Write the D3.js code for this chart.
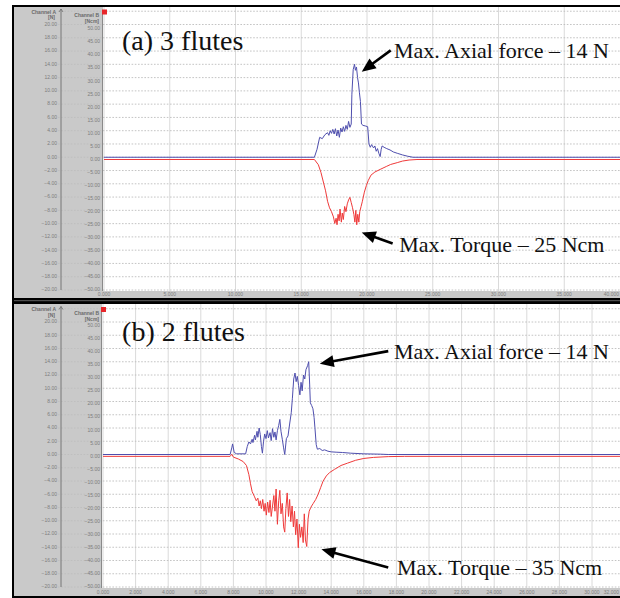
<!DOCTYPE html>
<html><head><meta charset="utf-8">
<script src="https://cdn.jsdelivr.net/npm/d3@7"></script>
<style>
html,body{margin:0;padding:0;background:#fff;}
svg{display:block;}
</style></head><body>
<svg id="fig" width="620" height="598"></svg>
<script>
// Tick values for Channel A (axial force, N), Channel B (torque, Ncm) and time
const forceTicks = d3.range(-20, 20.01, 2);
const forceGrid = d3.range(-20, 22.01, 2);
const torqueTicks = d3.range(-50, 50.01, 5);
const timeTicks3 = d3.range(0, 40.01, 5);
const timeTicks2 = d3.range(0, 32.01, 2);

// (a) 3 flutes: axial force [N]
const timeForce3 = [0, 16.0, 16.2, 16.4, 16.6, 16.8, 17.0, 17.1, 17.2, 17.3, 17.4, 17.5, 17.6, 17.7, 17.8, 17.9, 18.0, 18.1, 18.2, 18.3, 18.4, 18.5, 18.6, 18.7, 18.8, 18.85, 18.95, 19.05, 19.12, 19.2, 19.28, 19.35, 19.42, 19.5, 19.58, 19.7, 19.9, 20.05, 20.15, 20.25, 20.35, 20.5, 20.6, 20.7, 20.8, 20.9, 21.0, 21.08, 21.15, 21.3, 21.5, 21.75, 22.0, 22.3, 22.7, 23.1, 23.5, 40];
const force3 = [0, 0, 1.2, 3.0, 2.8, 3.4, 3.7, 3.3, 4.0, 3.6, 4.2, 3.5, 4.3, 3.2, 4.1, 3.0, 4.4, 3.8, 4.6, 3.9, 4.8, 4.2, 5.4, 4.5, 5.0, 9.5, 13.2, 14.0, 13.1, 13.6, 12.0, 11.2, 9.8, 8.4, 5.0, 4.8, 4.7, 4.6, 2.0, 1.5, 1.9, 1.4, 1.7, 0.9, 1.3, 0.6, 0.1, 1.2, 1.7, 1.5, 1.3, 1.1, 0.8, 0.6, 0.35, 0.15, 0, 0];
// (a) 3 flutes: torque [Ncm]
const timeTorque3 = [0, 16.0, 16.3, 16.5, 16.7, 16.85, 17.0, 17.15, 17.3, 17.45, 17.55, 17.65, 17.72, 17.8, 17.88, 17.95, 18.05, 18.12, 18.2, 18.3, 18.4, 18.5, 18.6, 18.7, 18.8, 18.9, 19.0, 19.08, 19.15, 19.22, 19.3, 19.38, 19.45, 19.55, 19.65, 19.8, 19.95, 20.1, 20.3, 20.6, 21.0, 21.5, 21.8, 22.3, 22.7, 23.2, 23.8, 40];
const torque3 = [0, 0, -2, -5, -9, -12, -16, -18.5, -20, -22, -24.5, -22.5, -25, -21, -23.5, -19, -24, -20.5, -23, -18, -20, -17, -15.5, -14.5, -16.5, -18.5, -21, -24, -19.5, -25, -21, -24, -20, -18, -16, -12.5, -10, -8, -6, -4.8, -3.8, -2.6, -1.9, -1.2, -0.6, -0.2, 0, 0];

// (b) 2 flutes: axial force [N]
const timeForce2 = [0, 7.8, 7.9, 7.95, 8.05, 8.2, 8.75, 8.85, 8.95, 9.05, 9.15, 9.2, 9.3, 9.35, 9.45, 9.5, 9.58, 9.65, 9.72, 9.78, 9.85, 9.92, 10.0, 10.08, 10.15, 10.25, 10.32, 10.4, 10.48, 10.55, 10.62, 10.7, 10.78, 10.85, 10.92, 11.0, 11.08, 11.15, 11.25, 11.35, 11.45, 11.55, 11.62, 11.7, 11.78, 11.85, 11.92, 12.0, 12.08, 12.15, 12.22, 12.3, 12.38, 12.45, 12.55, 12.62, 12.68, 12.72, 12.8, 12.88, 12.95, 13.0, 13.08, 13.15, 13.3, 13.45, 13.6, 13.8, 14.0, 14.3, 14.7, 15.2, 16.0, 17.0, 17.5, 32];
const force2 = [0, 0, 1.0, 1.6, 0.3, 0.1, 0.1, 1.2, 1.9, 1.6, 2.3, 1.8, 2.9, 2.2, 3.5, 2.6, 4.0, 3.0, 1.2, 0.2, 2.0, 3.1, 2.4, 3.6, 2.5, 3.3, 2.1, 3.9, 2.6, 3.4, 2.2, 3.6, 4.4, 5.3, 3.5, 2.3, 1.0, 0.0, 2.4, 2.8, 4.6, 6.3, 8.5, 11.4, 12.3, 11.0, 11.8, 10.4, 9.0, 10.9, 9.6, 12.0, 11.4, 12.8, 13.4, 14.0, 10.5, 7.8, 7.4, 6.9, 5.6, 4.1, 1.5, 0.8, 0.9, 0.6, 0.7, 0.5, 0.4, 0.35, 0.3, 0.2, 0.1, 0.05, 0, 0];
// (b) 2 flutes: torque [Ncm]
const timeTorque2 = [0, 7.8, 7.9, 8.0, 8.3, 8.6, 8.8, 8.95, 9.05, 9.15, 9.3, 9.4, 9.5, 9.58, 9.65, 9.72, 9.8, 9.88, 9.95, 10.02, 10.1, 10.18, 10.25, 10.32, 10.4, 10.48, 10.55, 10.62, 10.7, 10.78, 10.85, 10.92, 11.0, 11.08, 11.15, 11.22, 11.3, 11.38, 11.45, 11.52, 11.6, 11.68, 11.75, 11.82, 11.9, 11.98, 12.05, 12.12, 12.2, 12.28, 12.35, 12.42, 12.5, 12.58, 12.65, 12.75, 12.9, 13.05, 13.2, 13.35, 13.5, 13.7, 13.9, 14.2, 14.6, 15.0, 15.5, 16.0, 16.6, 17.5, 18.5, 32];
const torque2 = [0, 0, 0.8, -0.3, -1, -2, -3.5, -7, -10.5, -13.5, -15.5, -17, -16, -19, -17, -20, -16.5, -21, -18, -22.5, -17.5, -21.5, -16.8, -23, -19, -15, -21, -12.5, -26, -17, -13, -22, -18, -27, -29, -20, -14, -23, -16.5, -25, -19, -27, -21, -30, -24, -35, -26, -31, -27, -33, -22, -32, -34.5, -24, -21, -19.5, -18, -16.5, -14.5, -12, -9.5, -7.5, -6.2, -5, -3.5, -2.6, -1.5, -0.8, -0.4, -0.1, 0, 0];

// Panel geometry and annotations (annotation anchors are in data units)
const panels = [
  {
    title: "(a) 3 flutes", titleAt: [1.37, 16.2],
    dy: 0, chartTop: 7, chartBottom: 291, stripBottom: 298,
    xDomain: [0, 40], xRange: [104, 630], timeTicks: timeTicks3,
    rangeA: [290, 24.5], rangeB: [290, 29],
    force: [timeForce3, force3], torque: [timeTorque3, torque3],
    notes: [
      {text: "Max. Axial force \u2013 14 N", ch: "A", at: [22.05, 14.9], tail: [21.8, 16.1], tip: [19.6, 12.9]},
      {text: "Max. Torque \u2013 25 Ncm", ch: "B", at: [22.45, -35.4], tail: [21.95, -32.2], tip: [19.6, -28.0]}
    ]
  },
  {
    title: "(b) 2 flutes", titleAt: [1.17, 17.1],
    dy: 297.5, chartTop: 304, chartBottom: 588, stripBottom: 596,
    xDomain: [0, 32], xRange: [103, 624.6], timeTicks: timeTicks2,
    rangeA: [587, 322], rangeB: [587, 325.7],
    force: [timeForce2, force2], torque: [timeTorque2, torque2],
    notes: [
      {text: "Max. Axial force \u2013 14 N", ch: "A", at: [17.85, 14.4], tail: [17.5, 15.6], tip: [13.3, 13.7]},
      {text: "Max. Torque \u2013 35 Ncm", ch: "B", at: [18.04, -45.5], tail: [17.5, -42.5], tip: [13.4, -35.6]}
    ]
  }
];

const svg = d3.select("#fig");
const W = 620;
const grey = "#c9c9c9";
const tickFont = "Liberation Sans, Arial, sans-serif";
const serif = "Liberation Serif, Times New Roman, serif";

// outer frame
svg.append("rect").attr("x", 12).attr("y", 5).attr("width", W - 12).attr("height", 593).attr("fill", "#000");

panels.forEach(p => {
  const g = svg.append("g");
  const x = d3.scaleLinear().domain(p.xDomain).range(p.xRange);
  const yA = d3.scaleLinear().domain([-20, 20]).range(p.rangeA);
  const yB = d3.scaleLinear().domain([-50, 50]).range(p.rangeB);
  const left = p.xRange[0] - 1;

  // grey instrument panel and white plotting area
  g.append("rect").attr("x", 14).attr("y", p.chartTop).attr("width", W - 14)
    .attr("height", p.stripBottom - p.chartTop).attr("fill", grey);
  g.append("rect").attr("x", left).attr("y", p.chartTop).attr("width", W - left)
    .attr("height", p.chartBottom - p.chartTop).attr("fill", "#fff");

  // vertical grid
  g.append("g").selectAll("line").data(p.timeTicks).join("line")
    .attr("x1", d => x(d)).attr("x2", d => x(d))
    .attr("y1", p.chartTop).attr("y2", p.chartBottom)
    .attr("stroke", "#dadada").attr("stroke-width", 1);

  // horizontal dotted grid (Channel A divisions)
  g.append("g").selectAll("line").data(forceGrid.filter(v => yA(v) > p.chartTop + 2)).join("line")
    .attr("x1", 58).attr("x2", W)
    .attr("y1", d => yA(d)).attr("y2", d => yA(d))
    .attr("stroke", "#bdbdbd").attr("stroke-width", 0.9).attr("stroke-dasharray", "1.6,1.6");

  // Channel A axis
  const axA = g.append("g").attr("font-family", tickFont).attr("font-size", 5).attr("fill", "#7d7d7d");
  axA.selectAll("text").data(forceTicks).join("text")
    .attr("x", 57).attr("y", d => yA(d)).attr("text-anchor", "end").attr("dominant-baseline", "middle")
    .text(d3.format(".2f"));
  g.append("line").attr("x1", 61).attr("x2", 61).attr("y1", 9 + p.dy).attr("y2", yA(-20))
    .attr("stroke", "#6e6e6e").attr("stroke-width", 0.9);
  g.append("path").attr("d", `M59,${12 + p.dy}L61,${9 + p.dy}L63,${12 + p.dy}`)
    .attr("fill", "none").attr("stroke", "#6e6e6e").attr("stroke-width", 0.8);

  // Channel B axis
  const axB = g.append("g").attr("font-family", tickFont).attr("font-size", 5).attr("fill", "#7d7d7d");
  axB.selectAll("text").data(torqueTicks).join("text")
    .attr("x", 100).attr("y", d => yB(d)).attr("text-anchor", "end").attr("dominant-baseline", "middle")
    .text(d3.format(".2f"));
  g.append("line").attr("x1", left - 0.5).attr("x2", left - 0.5).attr("y1", p.chartTop + 5).attr("y2", p.chartBottom)
    .attr("stroke", "#8a8a8a").attr("stroke-width", 1);
  g.append("rect").attr("x", left - 1).attr("y", 9.5 + p.dy).attr("width", 5).attr("height", 5).attr("fill", "#e8262a");

  // channel headers
  const hdr = g.append("g").attr("font-family", tickFont).attr("font-size", 5).attr("font-weight", "bold")
    .attr("fill", "#6a6a6a").attr("text-anchor", "end").attr("dominant-baseline", "middle");
  hdr.append("text").attr("x", 56).attr("y", 12.5 + p.dy).text("Channel A");
  hdr.append("text").attr("x", 55).attr("y", 18 + p.dy).text("[N]");
  hdr.append("text").attr("x", 99).attr("y", 16 + p.dy).text("Channel B");
  hdr.append("text").attr("x", 99).attr("y", 22 + p.dy).text("[Ncm]");

  // time axis labels (the last one is kept inside the window)
  g.append("g").attr("font-family", tickFont).attr("font-size", 5).attr("fill", "#7d7d7d")
    .selectAll("text").data(p.timeTicks).join("text")
    .attr("x", d => x(d) + 9 > W ? W - 1 : x(d))
    .attr("y", (p.chartBottom + p.stripBottom) / 2 + 0.5)
    .attr("text-anchor", d => x(d) + 9 > W ? "end" : "middle")
    .attr("dominant-baseline", "middle")
    .text(d3.format(".3f"));

  // signals
  const lineA = d3.line().x(d => x(d[0])).y(d => yA(d[1]));
  const lineB = d3.line().x(d => x(d[0])).y(d => yB(d[1]));
  g.append("path").datum(d3.zip(p.torque[0], p.torque[1])).attr("d", lineB)
    .attr("fill", "none").attr("stroke", "#ef3a3a").attr("stroke-width", 1).attr("stroke-linejoin", "round");
  g.append("path").datum(d3.zip(p.force[0], p.force[1])).attr("d", lineA)
    .attr("fill", "none").attr("stroke", "#4f4fae").attr("stroke-width", 1).attr("stroke-linejoin", "round");

  // panel title
  g.append("text").attr("x", x(p.titleAt[0])).attr("y", yA(p.titleAt[1]))
    .attr("font-family", serif).attr("font-size", 28).attr("fill", "#111").text(p.title);

  // annotations with arrows
  p.notes.forEach(n => {
    const ys = n.ch === "A" ? yA : yB;
    const tx = x(n.tail[0]), ty = ys(n.tail[1]);
    const hx = x(n.tip[0]), hy = ys(n.tip[1]);
    const len = Math.hypot(hx - tx, hy - ty);
    const ux = (hx - tx) / len, uy = (hy - ty) / len;
    const L = 14, hw = 6;
    const bx = hx - ux * L, by = hy - uy * L;
    g.append("line").attr("x1", tx).attr("y1", ty).attr("x2", bx + ux * 2).attr("y2", by + uy * 2)
      .attr("stroke", "#000").attr("stroke-width", 2.6);
    g.append("path")
      .attr("d", `M${hx},${hy}L${bx - uy * hw},${by + ux * hw}L${bx + uy * hw},${by - ux * hw}Z`)
      .attr("fill", "#000");
    g.append("text").attr("x", x(n.at[0])).attr("y", ys(n.at[1]))
      .attr("font-family", serif).attr("font-size", 22).attr("fill", "#111").text(n.text);
  });
});

// separator between the two panels
svg.append("line").attr("x1", 14).attr("x2", W).attr("y1", 300.7).attr("y2", 300.7)
  .attr("stroke", "#7a7a7a").attr("stroke-width", 0.8);
</script>
</body></html>
